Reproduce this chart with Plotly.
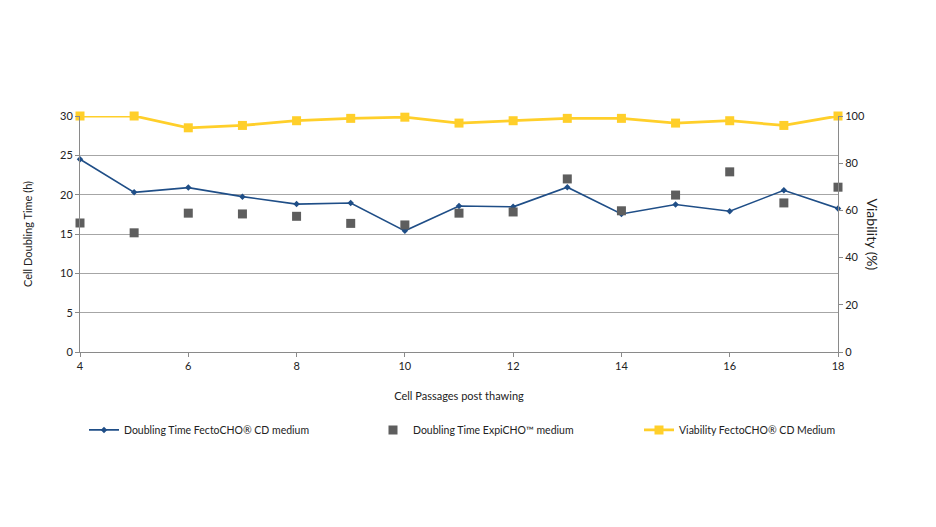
import plotly.graph_objects as go

passages = [4, 5, 6, 7, 8, 9, 10, 11, 12, 13, 14, 15, 16, 17, 18]
dt_fecto = [24.5, 20.3, 20.9, 19.75, 18.8, 18.95, 15.4, 18.55, 18.45, 20.95, 17.55, 18.75, 17.9, 20.55, 18.25]
dt_expi = [16.4, 15.15, 17.65, 17.55, 17.25, 16.35, 16.15, 17.65, 17.8, 22.0, 17.95, 19.95, 22.9, 18.95, 20.95]
viability = [100, 100, 95, 96, 98, 99, 99.5, 97, 98, 99, 99, 97, 98, 96, 100]

names = ["Doubling Time FectoCHO® CD medium",
         "Doubling Time ExpiCHO™ medium",
         "Viability FectoCHO® CD Medium"]

BLUE = "#1f4e87"
GRAY = "#5e5e5e"
YELLOW = "#ffcf2a"
FONT = "Lato"

fig = go.Figure()
fig.add_trace(go.Scatter(x=passages, y=dt_fecto, name=names[0], mode="lines+markers",
                         line=dict(color=BLUE, width=1.6),
                         marker=dict(symbol="diamond", size=5, color=BLUE),
                         cliponaxis=False, legend="legend"))
fig.add_trace(go.Scatter(x=passages, y=dt_expi, name=names[1], mode="markers",
                         marker=dict(symbol="square", size=9, color=GRAY),
                         cliponaxis=False, legend="legend2"))
fig.add_trace(go.Scatter(x=passages, y=viability, name=names[2], mode="lines+markers",
                         line=dict(color=YELLOW, width=2.8),
                         marker=dict(symbol="square", size=9, color=YELLOW),
                         cliponaxis=False, yaxis="y2", legend="legend3"))

L, T, PW = 72, 108, 758
axis_col = "#8a8a8a"
leg = dict(y=-0.33, xanchor="left", yanchor="middle", itemwidth=30,
           font=dict(size=10.5, family=FONT), bgcolor="rgba(0,0,0,0)")
fig.update_layout(
    width=936, height=527,
    margin=dict(l=L, r=936 - L - PW, t=T, b=527 - T - 236),
    paper_bgcolor="white", plot_bgcolor="white",
    font=dict(family=FONT, size=11, color="#222222"),
    showlegend=True,
    xaxis=dict(range=[4, 18], dtick=2, tick0=4, showgrid=False, zeroline=False,
               showline=True, linecolor=axis_col, linewidth=1,
               ticks="outside", ticklen=4, tickcolor=axis_col,
               tickfont=dict(size=11, family=FONT),
               title=dict(text="Cell Passages post thawing", standoff=21,
                          font=dict(size=11, family=FONT))),
    yaxis=dict(range=[0, 30], dtick=5, showgrid=True, gridcolor="#a6a6a6", gridwidth=1,
               zeroline=False, showline=True, linecolor=axis_col, linewidth=1,
               ticks="outside", ticklen=4, tickcolor=axis_col,
               tickfont=dict(size=11, family=FONT),
               title=dict(text="Cell Doubling Time (h)", standoff=25,
                          font=dict(size=11, family=FONT))),
    yaxis2=dict(range=[0, 100], dtick=20, overlaying="y", side="right", showgrid=False,
                zeroline=False, showline=True, linecolor=axis_col, linewidth=1,
                ticks="outside", ticklen=4, tickcolor=axis_col,
                tickfont=dict(size=11, family=FONT)),
    legend=dict(leg, x=(84 - 80) / PW),
    legend2=dict(leg, x=(373 - 80) / PW),
    legend3=dict(leg, x=(639 - 80) / PW),
    annotations=[dict(text="Viability (%)", x=1.0, y=0.5, xref="paper", yref="paper",
                      xanchor="left", yanchor="middle", xshift=24, textangle=90,
                      showarrow=False, font=dict(size=14, family=FONT, color="#222222"))],
)

fig.write_html("out.html")
